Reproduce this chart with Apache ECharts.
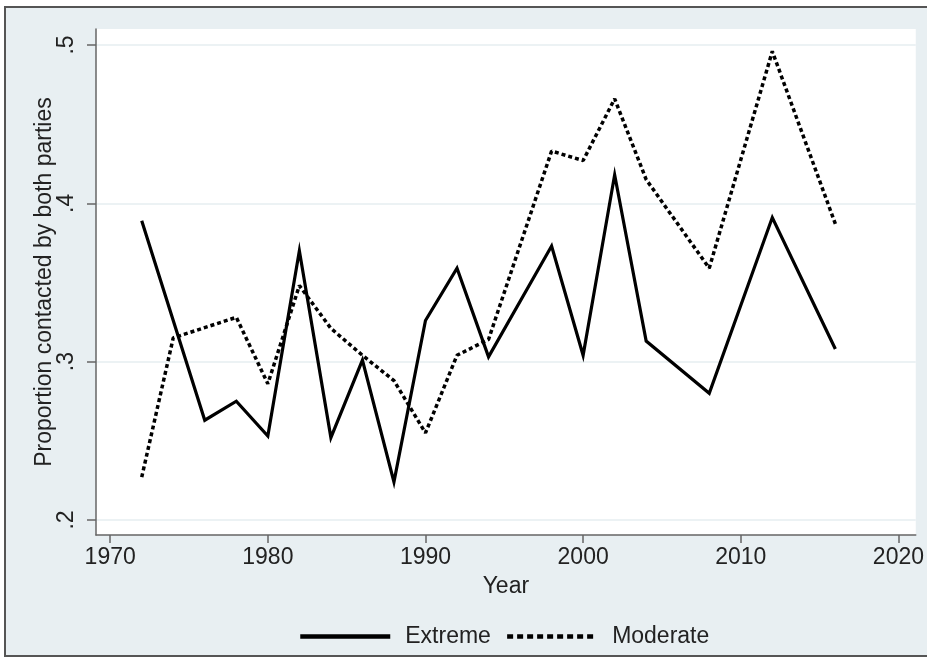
<!DOCTYPE html>
<html>
<head>
<meta charset="utf-8">
<script src="https://cdn.jsdelivr.net/npm/echarts@6/dist/echarts.min.js"></script>
<style>
html,body{margin:0;padding:0;background:#fff;}
#c{width:927px;height:659px;}
</style>
</head>
<body>
<div id="c"></div>
<script>
// ---- data ----
var extremeYears = [1972,1976,1978,1980,1982,1984,1986,1988,1990,1992,1994,1998,2000,2002,2004,2008,2012,2016];
var extremeValues = [0.389,0.263,0.275,0.253,0.370,0.252,0.301,0.224,0.326,0.359,0.303,0.373,0.304,0.418,0.313,0.280,0.391,0.308];
var moderateYears = [1972,1974,1978,1980,1982,1984,1986,1988,1990,1992,1994,1998,2000,2002,2004,2008,2012,2016];
var moderateValues = [0.227,0.315,0.328,0.286,0.348,0.321,0.304,0.288,0.255,0.304,0.314,0.433,0.427,0.466,0.415,0.359,0.496,0.387];
var xTicks = [1970,1980,1990,2000,2010,2020];
var yTicks = [0.2,0.3,0.4,0.5];
var yTickLabels = {'0.2':'.2','0.3':'.3','0.4':'.4','0.5':'.5'};
var seriesNames = ['Extreme','Moderate'];
var xTitle = 'Year';
var yTitle = 'Proportion contacted by both parties';

function pairs(xs, ys){ return xs.map(function(x,i){ return [x, ys[i]]; }); }

var FONT = '"Liberation Sans", Arial, sans-serif';
var BG = '#e8eff2';
var chart = echarts.init(document.getElementById('c'), null, {renderer:'canvas'});
chart.setOption({
  backgroundColor: '#ffffff',
  animation: false,
  graphic: [{
    type: 'rect', z: -10, silent: true,
    shape: {x: 5, y: 7, width: 930, height: 649},
    style: {fill: BG, stroke: '#555', lineWidth: 2}
  }],
  grid: {
    left: 96, right: 11, top: 29, bottom: 124,
    show: true, backgroundColor: '#ffffff', borderWidth: 0
  },
  xAxis: {
    type: 'value', min: 1969.1, max: 2021.1,
    name: xTitle, nameLocation: 'middle', nameGap: 40, nameMoveOverlap: false,
    nameTextStyle: {fontFamily: FONT, fontSize: 23, color: '#222'},
    axisLine: {show: true, lineStyle: {color: '#666', width: 1.5}},
    axisTick: {show: true, length: 8, customValues: xTicks, lineStyle: {color: '#666', width: 1.5}},
    axisLabel: {customValues: xTicks, margin: 11, fontFamily: FONT, fontSize: 23, color: '#222',
      formatter: function(v){ return String(Math.round(v)); }},
    splitLine: {show: false}
  },
  yAxis: {
    type: 'value', min: 0.1905, max: 0.5101,
    name: yTitle, nameLocation: 'middle', nameGap: 40, nameRotate: 90, nameMoveOverlap: false,
    nameTextStyle: {fontFamily: FONT, fontSize: 23, color: '#222'},
    axisLine: {show: true, lineStyle: {color: '#666', width: 1.5}},
    axisTick: {show: true, length: 9, customValues: yTicks, lineStyle: {color: '#666', width: 1.5}},
    axisLabel: {customValues: yTicks, rotate: 90, margin: 18, fontFamily: FONT, fontSize: 23, color: '#222',
      formatter: function(v){ return yTickLabels[v.toFixed(1)] || ''; }},
    splitLine: {show: true, lineStyle: {color: '#e6eef1', width: 1.6}}
  },
  legend: {
    show: true,
    top: 620, left: 293,
    itemWidth: 90, itemHeight: 14, itemGap: 14,
    itemStyle: {opacity: 0},
    lineStyle: {width: 4.5, color: '#000'},
    textStyle: {fontFamily: FONT, fontSize: 23, color: '#222', padding: [0,0,0,10]},
    data: [
      {name: seriesNames[0], lineStyle: {width: 4.5, type: 'solid'}},
      {name: seriesNames[1], lineStyle: {width: 4.5, type: [6,4]}}
    ]
  },
  series: [
    {
      name: seriesNames[0], type: 'line', data: pairs(extremeYears, extremeValues),
      showSymbol: false, symbol: 'none', color: '#000',
      lineStyle: {color: '#000', width: 3.2, type: 'solid', join: 'miter'}
    },
    {
      name: seriesNames[1], type: 'line', data: pairs(moderateYears, moderateValues),
      showSymbol: false, symbol: 'none', color: '#000',
      lineStyle: {color: '#000', width: 3.5, type: [4,3]}
    }
  ]
});
</script>
</body>
</html>
